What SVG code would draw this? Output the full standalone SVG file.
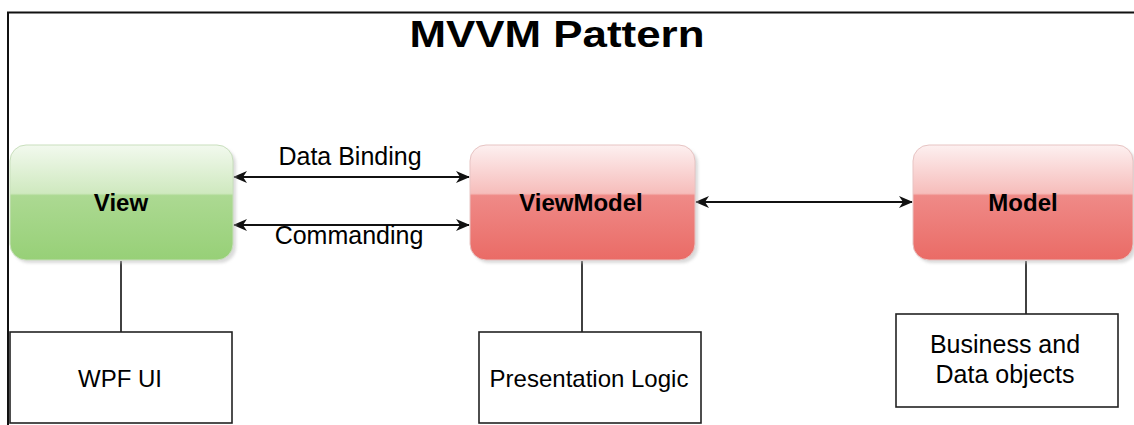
<svg xmlns="http://www.w3.org/2000/svg" width="1134" height="425" viewBox="0 0 1134 425">
  <style>
    .lbl { font-family: "Liberation Sans", Arial, sans-serif; font-size: 24px; fill: #000; text-anchor: middle; }
    .bold { font-weight: bold; }
    .conn { stroke: #111; stroke-width: 2; fill: none; }
    .tie { stroke: #111; stroke-width: 1.6; fill: none; }
    .box { fill: #fff; stroke: #222; stroke-width: 1.6; }
    .shadow { fill: #bdbdbd; opacity: 0.55; filter: url(#soft); }
  </style>
  <defs>
    <filter id="soft" x="-10%" y="-10%" width="120%" height="120%">
      <feGaussianBlur stdDeviation="1.5"/>
    </filter>
    <!-- glossy green fill -->
    <linearGradient id="green" x1="0" y1="0" x2="0" y2="1">
      <stop offset="0" stop-color="#f2f9ee"/>
      <stop offset="0.42" stop-color="#cfe9bf"/>
      <stop offset="0.44" stop-color="#acd992"/>
      <stop offset="1" stop-color="#97d077"/>
    </linearGradient>
    <!-- glossy red fill -->
    <linearGradient id="red" x1="0" y1="0" x2="0" y2="1">
      <stop offset="0" stop-color="#fdf0f0"/>
      <stop offset="0.42" stop-color="#f6bdbb"/>
      <stop offset="0.44" stop-color="#ef8a87"/>
      <stop offset="1" stop-color="#ea6b66"/>
    </linearGradient>
    <marker id="head" viewBox="0 0 14 12" refX="13" refY="6" markerWidth="14" markerHeight="12" markerUnits="userSpaceOnUse" orient="auto-start-reverse">
      <path d="M0,0 L14,6 L0,12 L4,6 Z" fill="#111"/>
    </marker>
  </defs>

  <rect width="1134" height="425" fill="#fff"/>

  <!-- outer frame -->
  <path d="M8,425 V12.5 H1134" fill="none" stroke="#111" stroke-width="2"/>

  <!-- title -->
  <text class="lbl bold" x="557" y="47" style="font-size:36px" textLength="295" lengthAdjust="spacingAndGlyphs">MVVM Pattern</text>

  <!-- connectors -->
  <g id="connectors">
    <line class="conn" x1="234" y1="177" x2="469" y2="177" marker-start="url(#head)" marker-end="url(#head)"/>
    <line class="conn" x1="234" y1="225" x2="469" y2="225" marker-start="url(#head)" marker-end="url(#head)"/>
    <line class="conn" x1="696" y1="202" x2="912" y2="202" marker-start="url(#head)" marker-end="url(#head)"/>
    <text class="lbl" x="350" y="165" style="font-size:25px">Data Binding</text>
    <text class="lbl" x="349" y="244" style="font-size:25px">Commanding</text>
    <line class="tie" x1="121" y1="261" x2="121" y2="332"/>
    <line class="tie" x1="582" y1="261" x2="582" y2="332"/>
    <line class="tie" x1="1026" y1="261" x2="1026" y2="314"/>
  </g>

  <!-- View -->
  <g id="view">
    <rect class="shadow" x="13" y="148" width="223" height="115" rx="16"/>
    <rect x="10" y="145" width="223" height="115" rx="16" fill="url(#green)" stroke="#c9dfbd" stroke-width="1"/>
    <text class="lbl bold" x="121" y="211">View</text>
  </g>

  <!-- ViewModel -->
  <g id="viewmodel">
    <rect class="shadow" x="473" y="148" width="225" height="115" rx="16"/>
    <rect x="470" y="145" width="225" height="115" rx="16" fill="url(#red)" stroke="#e7c4c3" stroke-width="1"/>
    <text class="lbl bold" x="581" y="211">ViewModel</text>
  </g>

  <!-- Model -->
  <g id="model">
    <rect class="shadow" x="916" y="148" width="220" height="115" rx="16"/>
    <rect x="913" y="145" width="220" height="115" rx="16" fill="url(#red)" stroke="#e7c4c3" stroke-width="1"/>
    <text class="lbl bold" x="1023" y="211">Model</text>
  </g>

  <!-- WPF UI -->
  <g id="wpf-ui">
    <rect class="box" x="10" y="332" width="222" height="91"/>
    <text class="lbl" x="120" y="387">WPF UI</text>
  </g>

  <!-- Presentation Logic -->
  <g id="presentation-logic">
    <rect class="box" x="479" y="332" width="222" height="91"/>
    <text class="lbl" x="589" y="387">Presentation Logic</text>
  </g>

  <!-- Business and Data objects -->
  <g id="business-data">
    <rect class="box" x="896" y="314" width="222" height="93"/>
    <text class="lbl" x="1005" y="353" style="font-size:25px">Business and</text>
    <text class="lbl" x="1005" y="383" style="font-size:25px">Data objects</text>
  </g>
</svg>
